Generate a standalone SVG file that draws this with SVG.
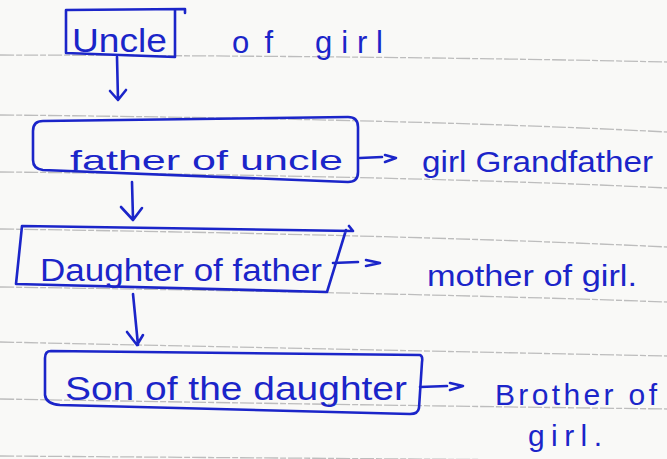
<svg xmlns="http://www.w3.org/2000/svg" width="667" height="459" viewBox="0 0 667 459">
<defs>
<style>
.rule{fill:none;stroke:#bdbdbd;stroke-width:1.3;stroke-dasharray:14 2 6 2}
.ink{fill:none;stroke:#1b25c9;stroke-width:2.6;stroke-linecap:round;stroke-linejoin:round}
.t{font-family:"Liberation Sans","DejaVu Sans",sans-serif;fill:#1b25c9}
</style>
</defs>
<rect x="0" y="0" width="667" height="459" fill="#f9f9f7"/>
<g id="paper-lines">
<path class="rule" d="M0,55 Q400,56 667,62"/>
<path class="rule" d="M0,115 Q420,119 667,132"/>
<path class="rule" d="M0,172 Q420,176 667,188"/>
<path class="rule" d="M0,229 Q420,235 667,247"/>
<path class="rule" d="M0,287 Q420,293 667,302"/>
<path class="rule" d="M0,342 Q420,351 667,356"/>
<path class="rule" d="M0,399 Q420,406 667,409"/>
<path class="rule" d="M0,456 Q420,459 667,461"/>
</g>
<g id="connectors">
<path class="ink" d="M117,57 L118,100 M110,91 L118,100 L126,90"/>
<path class="ink" d="M132,182 L133,219 M121,207 L133,220 L142,208"/>
<path class="ink" d="M133,294 L138,345 M127,332 L137,345 L143,335"/>
<path class="ink" d="M360,158 L382,157 M385,155 L396,158 L385,162"/>
<path class="ink" d="M333,263 L358,262 M366,260 L380,263 L366,266"/>
<path class="ink" d="M420,387 L447,386 M450,383 L463,386 L450,390"/>
</g>
<g id="node-uncle">
<path class="ink" d="M185,13 L185,9 L66,10 L66,53 L175,57 L175,10"/>
<text class="t" x="72" y="52" font-size="33" textLength="95" lengthAdjust="spacingAndGlyphs">Uncle</text>
<text class="t" y="53" font-size="31"><tspan x="232" textLength="41" lengthAdjust="spacing">of</tspan> <tspan x="315" textLength="68" lengthAdjust="spacing">girl</tspan></text>
</g>
<g id="node-father">
<path class="ink" d="M43,121 L348,117 Q358,117 358,127 L358,172 Q358,182 348,182 L43,170 Q33,169 33,160 L33,131 Q33,121 43,121 Z"/>
<text class="t" x="70" y="170" font-size="28" textLength="273" lengthAdjust="spacingAndGlyphs">father of uncle</text>
<text class="t" x="422" y="172" font-size="30" textLength="231" lengthAdjust="spacingAndGlyphs">girl Grandfather</text>
</g>
<g id="node-daughter">
<path class="ink" d="M349,226 L353,231 L22,226 L16,284 L327,292 L346,230"/>
<text class="t" x="40" y="281" font-size="31" textLength="282" lengthAdjust="spacingAndGlyphs">Daughter of father</text>
<text class="t" x="427" y="286" font-size="30" textLength="210" lengthAdjust="spacingAndGlyphs">mother of girl.</text>
</g>
<g id="node-son">
<path class="ink" d="M51,351 L420,355 Q423,356 422,362 L419,408 Q418,414 410,414 L60,405 Q46,404 45,395 L45,358 Q45,351 51,351 Z"/>
<text class="t" x="65" y="400" font-size="33" textLength="342" lengthAdjust="spacingAndGlyphs">Son of the daughter</text>
<text class="t" x="495" y="405" font-size="30" textLength="162" lengthAdjust="spacing">Brother of</text>
<text class="t" x="528" y="446" font-size="30" textLength="74" lengthAdjust="spacing">girl.</text>
</g>
</svg>
